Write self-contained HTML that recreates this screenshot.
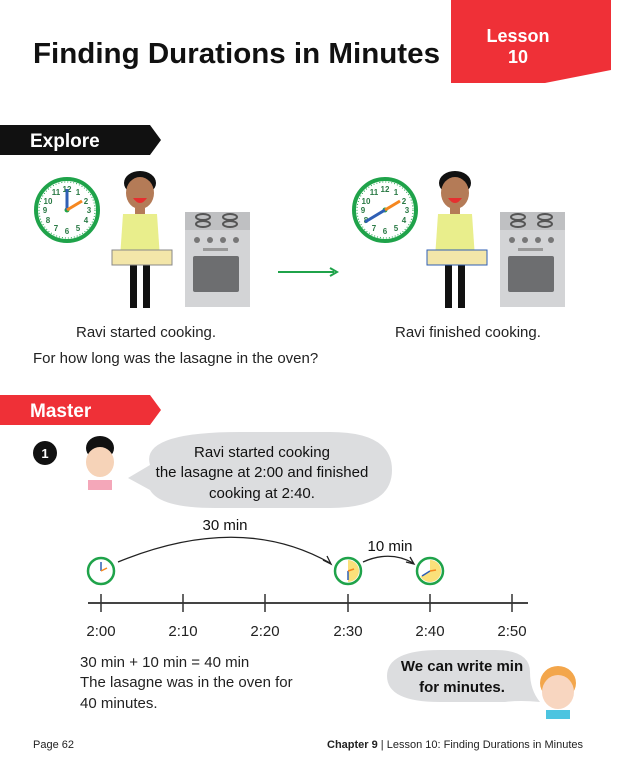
<!DOCTYPE html>
<html><head><meta charset="utf-8"><style>
html,body{margin:0;padding:0;background:#fff}
svg{display:block}
text{font-family:"Liberation Sans",sans-serif}
</style></head><body>
<svg width="617" height="757" viewBox="0 0 617 757" xmlns="http://www.w3.org/2000/svg">
<defs>
<g id="clk">
<circle r="31" fill="#fff" stroke="#1fa34a" stroke-width="4"/>
<circle r="28" fill="none" stroke="#1fa34a" stroke-width="1" stroke-dasharray="1 2"/>
<g font-size="8" fill="#2a7a45" text-anchor="middle" font-weight="bold">
<text x="0" y="-18">12</text><text x="11" y="-15">1</text><text x="19" y="-6">2</text><text x="22" y="3">3</text><text x="19" y="13">4</text><text x="11" y="21">5</text><text x="0" y="24">6</text><text x="-11" y="21">7</text><text x="-19" y="13">8</text><text x="-22" y="3">9</text><text x="-19" y="-6">10</text><text x="-11" y="-15">11</text></g>
<circle r="2.5" fill="#1fa34a"/>
</g>
<g id="sclk">
<circle r="13" fill="#fff" stroke="#1fa34a" stroke-width="2.5"/>
</g>
<g id="stove">
<rect x="0" y="0" width="65" height="95" fill="#d3d4d6"/>
<rect x="0" y="0" width="65" height="18" fill="#bfc0c2"/>
<ellipse cx="18" cy="5" rx="7" ry="3" fill="none" stroke="#555" stroke-width="2"/>
<ellipse cx="45" cy="5" rx="7" ry="3" fill="none" stroke="#555" stroke-width="2"/>
<ellipse cx="18" cy="12" rx="7" ry="3" fill="none" stroke="#555" stroke-width="2"/>
<ellipse cx="45" cy="12" rx="7" ry="3" fill="none" stroke="#555" stroke-width="2"/>
<circle cx="12" cy="28" r="3" fill="#777"/><circle cx="25" cy="28" r="3" fill="#777"/><circle cx="38" cy="28" r="3" fill="#777"/><circle cx="51" cy="28" r="3" fill="#777"/>
<rect x="18" y="36" width="25" height="3" fill="#999"/>
<rect x="8" y="44" width="46" height="36" fill="#6d6e70" rx="2"/>
</g>
<g id="person">
<ellipse cx="0" cy="-5" rx="16" ry="12" fill="#111"/>
<ellipse cx="0" cy="5" rx="14" ry="16" fill="#b47b57"/>
<path d="M-7 10 Q0 20 7 10 Z" fill="#e52f2f"/>
<rect x="-5" y="20" width="10" height="6" fill="#b47b57"/>
<path d="M-17 26 L17 26 L20 70 L-20 70 Z" fill="#e9ee8c"/>
<rect x="-10" y="70" width="7" height="50" fill="#111"/>
<rect x="3" y="70" width="7" height="50" fill="#111"/>
</g>
</defs>

<text x="33" y="63" font-size="29" font-weight="bold" fill="#111" textLength="407" lengthAdjust="spacingAndGlyphs">Finding Durations in Minutes</text>
<path d="M451 0 H611 V70 L545 83 L451 83 Z" fill="#ef3037"/>
<text x="518" y="42" font-size="18" font-weight="bold" fill="#fff" text-anchor="middle">Lesson</text>
<text x="518" y="63" font-size="18" font-weight="bold" fill="#fff" text-anchor="middle">10</text>

<path d="M0 125 H150 L161 140 L150 155 H0 Z" fill="#111"/>
<text x="30" y="147" font-size="19" font-weight="bold" fill="#fff">Explore</text>

<g transform="translate(67,210)"><use href="#clk"/>
<line x1="0" y1="0" x2="0" y2="-21" stroke="#2f5fb5" stroke-width="3"/>
<line x1="0" y1="0" x2="15" y2="-9" stroke="#f5871f" stroke-width="3"/></g>
<g transform="translate(140,188)"><use href="#person"/></g>
<rect x="112" y="250" width="60" height="15" fill="#f3e6a9" stroke="#888"/>
<g transform="translate(185,212)"><use href="#stove"/></g>
<line x1="278" y1="272" x2="334" y2="272" stroke="#1fa34a" stroke-width="2"/>
<path d="M330 268 L337 272 L330 276" fill="none" stroke="#1fa34a" stroke-width="2"/>

<g transform="translate(385,210)"><use href="#clk"/>
<line x1="0" y1="0" x2="-20" y2="12" stroke="#2f5fb5" stroke-width="3"/>
<line x1="0" y1="0" x2="15" y2="-9" stroke="#f5871f" stroke-width="3"/></g>
<g transform="translate(455,188)"><use href="#person"/></g>
<rect x="427" y="250" width="60" height="15" fill="#f3e6a9" stroke="#2f5fb5"/>
<g transform="translate(500,212)"><use href="#stove"/></g>

<text x="76" y="337" font-size="15" fill="#222">Ravi started cooking.</text>
<text x="395" y="337" font-size="15" fill="#222">Ravi finished cooking.</text>
<text x="33" y="363" font-size="15" fill="#222">For how long was the lasagne in the oven?</text>

<path d="M0 395 H150 L161 410 L150 425 H0 Z" fill="#ef3037"/>
<text x="30" y="417" font-size="19" font-weight="bold" fill="#fff">Master</text>

<circle cx="45" cy="453" r="12" fill="#111"/>
<text x="45" y="458" font-size="13" font-weight="bold" fill="#fff" text-anchor="middle">1</text>
<ellipse cx="100" cy="448" rx="14" ry="12" fill="#111"/>
<ellipse cx="100" cy="462" rx="14" ry="15" fill="#f6d3b8"/>
<rect x="88" y="480" width="24" height="10" fill="#f4a7b9"/>
<path d="M150 465 Q140 432 240 432 H330 Q392 432 392 470 Q392 508 330 508 H215 Q160 508 150 490 L128 478 Z" fill="#dcdddf"/>
<text x="262" y="457" font-size="15" fill="#111" text-anchor="middle">Ravi started cooking</text>
<text x="262" y="477" font-size="15" fill="#111" text-anchor="middle">the lasagne at 2:00 and finished</text>
<text x="262" y="498" font-size="15" fill="#111" text-anchor="middle">cooking at 2:40.</text>

<text x="225" y="530" font-size="15" fill="#111" text-anchor="middle">30 min</text>
<path d="M118 562 Q240 512 330 563" fill="none" stroke="#222" stroke-width="1.3"/>
<path d="M323 560 L331 564 L327 556" fill="none" stroke="#222" stroke-width="1.3"/>
<text x="390" y="551" font-size="15" fill="#111" text-anchor="middle">10 min</text>
<path d="M363 562 Q390 550 413 563" fill="none" stroke="#222" stroke-width="1.3"/>
<path d="M406 562 L414 564 L410 557" fill="none" stroke="#222" stroke-width="1.3"/>

<g transform="translate(101,571)"><use href="#sclk"/><line x1="0" y1="0" x2="0" y2="-9" stroke="#2f5fb5" stroke-width="1.5"/><line x1="0" y1="0" x2="6" y2="-3" stroke="#f5871f" stroke-width="1.5"/></g>
<g transform="translate(348,571)"><use href="#sclk"/><path d="M0 -11 A11 11 0 0 1 0 11 Z" fill="#fbe07a"/><line x1="0" y1="0" x2="0" y2="9" stroke="#2f5fb5" stroke-width="1.5"/><line x1="0" y1="0" x2="6" y2="-2" stroke="#f5871f" stroke-width="1.5"/></g>
<g transform="translate(430,571)"><use href="#sclk"/><path d="M0 -11 A11 11 0 1 1 -9.5 5.5 L0 0 Z" fill="#fbe07a"/><line x1="0" y1="0" x2="-8" y2="5" stroke="#2f5fb5" stroke-width="1.5"/><line x1="0" y1="0" x2="6" y2="-1" stroke="#f5871f" stroke-width="1.5"/></g>

<line x1="88" y1="603" x2="528" y2="603" stroke="#444" stroke-width="2"/>
<g stroke="#333" stroke-width="1.5">
<line x1="101" y1="594" x2="101" y2="612"/><line x1="183" y1="594" x2="183" y2="612"/><line x1="265" y1="594" x2="265" y2="612"/><line x1="348" y1="594" x2="348" y2="612"/><line x1="430" y1="594" x2="430" y2="612"/><line x1="512" y1="594" x2="512" y2="612"/></g>
<g font-size="15" fill="#222" text-anchor="middle">
<text x="101" y="636">2:00</text><text x="183" y="636">2:10</text><text x="265" y="636">2:20</text><text x="348" y="636">2:30</text><text x="430" y="636">2:40</text><text x="512" y="636">2:50</text></g>

<text x="80" y="667" font-size="15" fill="#222">30 min + 10 min = 40 min</text>
<text x="80" y="687" font-size="15" fill="#222">The lasagne was in the oven for</text>
<text x="80" y="708" font-size="15" fill="#222">40 minutes.</text>

<path d="M440 650 H495 Q530 650 530 672 Q530 690 540 702 Q520 700 505 702 H440 Q387 702 387 676 Q387 650 440 650 Z" fill="#dcdddf"/>
<text x="462" y="671" font-size="15" font-weight="bold" fill="#111" text-anchor="middle">We can write min</text>
<text x="462" y="692" font-size="15" font-weight="bold" fill="#111" text-anchor="middle">for minutes.</text>
<ellipse cx="558" cy="683" rx="18" ry="17" fill="#f3a64b"/>
<ellipse cx="558" cy="692" rx="16" ry="17" fill="#f8d6c0"/>
<rect x="546" y="710" width="24" height="9" fill="#4cc4e0"/>

<text x="33" y="748" font-size="11" fill="#222">Page 62</text>
<text x="583" y="748" font-size="11" fill="#222" text-anchor="end"><tspan font-weight="bold">Chapter 9</tspan> | Lesson 10: Finding Durations in Minutes</text>
</svg>
</body></html>
